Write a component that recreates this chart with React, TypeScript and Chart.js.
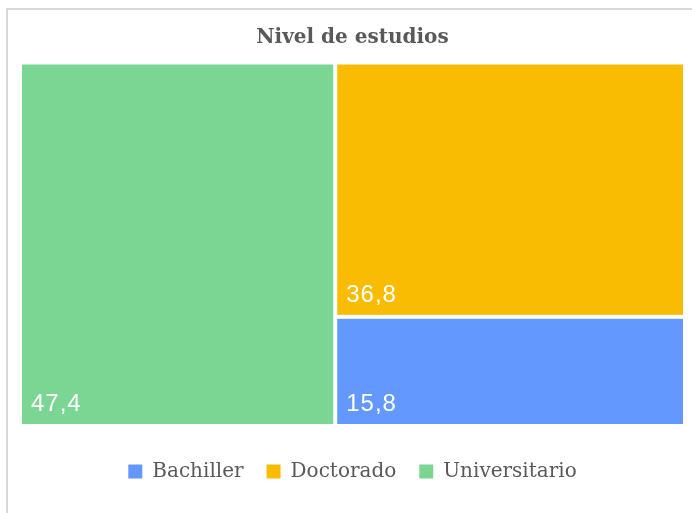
import React, { useEffect, useRef } from "react";
import { Chart, registerables } from "chart.js";

Chart.register(...registerables);

const TITLE = "Nivel de estudios";
const categories = ["Bachiller", "Doctorado", "Universitario"];
const values = [15.8, 36.8, 47.4];
const colors = ["#6399FE", "#FABC02", "#7BD593"];

type Cell = { i: number; a: number; x: number; y: number; w: number; h: number };

function worst(row: { a: number }[], side: number) {
  const s = row.reduce((t, r) => t + r.a, 0);
  const mx = Math.max(...row.map((r) => r.a));
  const mn = Math.min(...row.map((r) => r.a));
  return Math.max((side * side * mx) / (s * s), (s * s) / (side * side * mn));
}

function squarify(vals: number[], x: number, y: number, w: number, h: number): Cell[] {
  const total = vals.reduce((t, v) => t + v, 0);
  const k = (w * h) / total;
  const items = vals.map((v, i) => ({ i, a: v * k })).sort((p, q) => q.a - p.a);
  const out: Cell[] = [];
  let rect = { x, y, w, h };
  let idx = 0;
  while (idx < items.length) {
    const side = Math.min(rect.w, rect.h);
    let row = [items[idx]];
    idx++;
    while (idx < items.length) {
      const cand = [...row, items[idx]];
      if (worst(cand, side) <= worst(row, side)) {
        row = cand;
        idx++;
      } else break;
    }
    const ra = row.reduce((t, r) => t + r.a, 0);
    if (rect.w >= rect.h) {
      const cw = ra / rect.h;
      let yy = rect.y;
      row.forEach((r) => {
        const rh = r.a / cw;
        out.push({ i: r.i, a: r.a, x: rect.x, y: yy, w: cw, h: rh });
        yy += rh;
      });
      rect = { x: rect.x + cw, y: rect.y, w: rect.w - cw, h: rect.h };
    } else {
      const rh = ra / rect.w;
      let xx = rect.x;
      row.forEach((r) => {
        const rw = r.a / rh;
        out.push({ i: r.i, a: r.a, x: xx, y: rect.y, w: rw, h: rh });
        xx += rw;
      });
      rect = { x: rect.x, y: rect.y + rh, w: rect.w, h: rect.h - rh };
    }
  }
  return out;
}

const treemapPlugin = {
  id: "treemapCells",
  afterDatasetsDraw(chart: any) {
    const xs = chart.scales.x;
    const ys = chart.scales.y;
    const x0 = xs.getPixelForValue(0);
    const x1 = xs.getPixelForValue(100);
    const y0 = ys.getPixelForValue(100);
    const y1 = ys.getPixelForValue(0);
    const cells = squarify(values, x0, y0, x1 - x0, y1 - y0);
    const ctx = chart.ctx as CanvasRenderingContext2D;
    const gap = 2;
    ctx.save();
    cells.forEach((c) => {
      const rx = c.x + gap;
      const ry = c.y + gap;
      const rw = c.w - gap * 2;
      const rh = c.h - gap * 2;
      ctx.fillStyle = colors[c.i];
      ctx.fillRect(rx, ry, rw, rh);
      ctx.fillStyle = "#ffffff";
      ctx.font = "24px 'Liberation Sans', Arial, sans-serif";
      (ctx as any).letterSpacing = "1px";
      ctx.textAlign = "left";
      ctx.textBaseline = "alphabetic";
      ctx.fillText(values[c.i].toFixed(1).replace(".", ","), rx + 9, ry + rh - 13);
      (ctx as any).letterSpacing = "0px";
    });
    ctx.restore();
  },
};

export default function App() {
  const ref = useRef<HTMLCanvasElement | null>(null);
  useEffect(() => {
    if (!ref.current) return;
    const chart = new Chart(ref.current, {
      type: "scatter",
      data: {
        datasets: categories.map((c, i) => ({
          label: c,
          data: [],
          backgroundColor: colors[i],
          borderColor: colors[i],
          borderWidth: 0,
        })),
      },
      options: {
        responsive: false,
        animation: false,
        layout: { padding: { left: 20, right: 7, top: 8, bottom: 21.5 } },
        scales: {
          x: { type: "linear", min: 0, max: 100, display: false },
          y: { type: "linear", min: 0, max: 100, display: false },
        },
        plugins: {
          tooltip: { enabled: false },
          title: {
            display: true,
            text: TITLE,
            color: "#595959",
            font: { family: "'DejaVu Serif', serif", size: 20, weight: "bold", lineHeight: 1.2 },
            padding: { top: 18, bottom: 12.5 },
          },
          legend: {
            display: true,
            position: "bottom",
            title: { display: true, text: "", font: { size: 10, lineHeight: 1 }, padding: { top: 2.5, bottom: 0 } },
            labels: {
              color: "#595959",
              font: { family: "'DejaVu Serif', serif", size: 20 },
              boxWidth: 14,
              boxHeight: 14,
              padding: 23,
              generateLabels: (ch: any) => {
                const base = (Chart.defaults.plugins.legend.labels as any).generateLabels(ch);
                return base.map((l: any) => ({ ...l, lineWidth: 0 }));
              },
            },
          },
        },
      },
      plugins: [treemapPlugin],
    } as any);
    return () => chart.destroy();
  }, []);
  return (
    <div style={{ position: "fixed", left: 0, top: 0, width: 692, height: 513, background: "#fff", overflow: "hidden" }}>
      <div
        style={{
          position: "absolute",
          left: 6,
          top: 8,
          width: 720,
          height: 540,
          border: "2px solid #d9d9d9",
          boxSizing: "border-box",
        }}
      />
      <canvas ref={ref} width={692} height={513} style={{ position: "absolute", left: 0, top: 0, display: "block" }} />
    </div>
  );
}
